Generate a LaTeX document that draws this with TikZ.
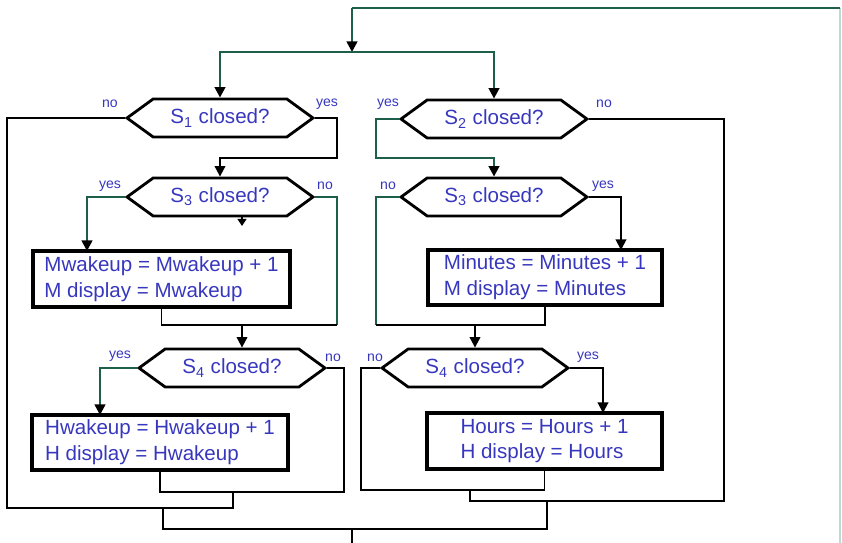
\documentclass[tikz,border=0pt]{standalone}
\usepackage{fontspec}
\setmainfont{Liberation Sans}
\usetikzlibrary{shapes.symbols,arrows.meta}
\definecolor{flowgreen}{RGB}{30,95,75}
\definecolor{textblue}{RGB}{55,55,190}
\definecolor{edgegreen}{RGB}{185,220,212}
\tikzset{
  hexa/.style={signal, signal to=east and west, signal pointer angle=72, draw, line width=1.6pt,
    minimum width=3.72cm, minimum height=0.76cm, inner sep=0pt, text=textblue,
    font=\fontsize{11.7}{14}\selectfont},
  stepbox/.style={draw, line width=2.2pt, align=left, inner sep=0pt, text=textblue,
    font=\fontsize{11.7}{14.7}\selectfont},
  ans/.style={text=textblue, inner sep=0pt, font=\fontsize{8}{9}\selectfont},
  conn/.style={line width=1.1pt},
  gconn/.style={line width=1.4pt, draw=flowgreen},
  tip/.style={-{Triangle[width=6pt,length=6pt,color=black]}}
}

\begin{document}
\begin{tikzpicture}[x=0.02cm, y=-0.02cm]
    \useasboundingbox (0,0) rectangle (842,543);
    % decisions
    \node[hexa] (s1) at (220,118) {S\textsubscript{1} closed?};
    \node[hexa] (s2) at (494,119) {S\textsubscript{2} closed?};
    \node[hexa] (s3l) at (220,197) {S\textsubscript{3} closed?};
    \node[hexa] (s3r) at (494,197) {S\textsubscript{3} closed?};
    \node[hexa] (s4l) at (232,368) {S\textsubscript{4} closed?};
    \node[hexa] (s4r) at (475,368) {S\textsubscript{4} closed?};
    % actions
    \node[stepbox, minimum width=5.14cm, minimum height=1.12cm] (mbox) at (161.5,279)
      {Mwakeup = Mwakeup + 1\\M display = Mwakeup};
    \node[stepbox, minimum width=4.68cm, minimum height=1.1cm] (minbox) at (545,277.5)
      {Minutes = Minutes + 1\\M display = Minutes};
    \node[stepbox, minimum width=5.12cm, minimum height=1.1cm] (hbox) at (160,442.5)
      {Hwakeup = Hwakeup + 1\\H display = Hwakeup};
    \node[stepbox, minimum width=4.7cm, minimum height=1.12cm] (hrbox) at (544.5,441)
      {Hours = Hours + 1\\H display = Hours};
    % yes / no
    \node[ans] (a1n) at (110,104) {no};
    \node[ans] (a1y) at (327,104) {yes};
    \node[ans] (a2y) at (388,104) {yes};
    \node[ans] (a2n) at (604,104) {no};
    \node[ans] (a3y) at (110,186) {yes};
    \node[ans] (a3n) at (325,186) {no};
    \node[ans] (a5n) at (388,186) {no};
    \node[ans] (a5y) at (603,186) {yes};
    \node[ans] (a4y) at (120,356) {yes};
    \node[ans] (a4n) at (333,358) {no};
    \node[ans] (a6n) at (375,358) {no};
    \node[ans] (a6y) at (588,357) {yes};
    % corners and joins
    \coordinate (ret) at (352,8);
    \coordinate (j0) at (352,52);
    \coordinate (lp) at (840,543);
    \coordinate (c1) at (337,158);
    \coordinate (c2) at (376,158);
    \coordinate (c3) at (337,325);
    \coordinate (c4) at (376,325);
    \coordinate (m1) at (242,325);
    \coordinate (m2) at (475,325);
    \coordinate (t1) at (87,251);
    \coordinate (t2) at (621,250);
    \coordinate (t3) at (100,415);
    \coordinate (t4) at (603,413);
    \coordinate (ml) at (233,492);
    \coordinate (jl) at (233,508);
    \coordinate (dl) at (163,508);
    \coordinate (bl) at (163,529);
    \coordinate (mr) at (470,490);
    \coordinate (jr) at (470,501);
    \coordinate (dr) at (547,501);
    \coordinate (br) at (547,529);
    \coordinate (out) at (352,529);
    \coordinate (outb) at (352,543);
    \coordinate (stub) at (242,226);
    % loop back
    \draw[line width=0.6pt, edgegreen] (lp) -- (lp |- ret);
    \draw[gconn] (lp |- ret) -- (ret);
    \draw[gconn, tip] (ret) -- (j0);
    \draw[gconn, tip] (j0) -| (s1.north);
    \draw[gconn, tip] (j0) -| (s2.north);
    % left column
    \draw[conn, tip] (s1.east) -| (c1) -| (s3l.north);
    \draw[gconn, tip] (s3l.west) -| (t1);
    \draw[gconn] (s3l.east) -| (c3);
    \draw[conn] (mbox.south) |- (c3);
    \draw[conn, tip] (m1) -- (m1 |- s4l.north);
    \draw[conn, -{Triangle[width=5pt,length=4pt]}] (s3l.south -| stub) -- (stub);
    \draw[gconn, tip] (s4l.west) -| (t3);
    \draw[conn] (hbox.south) |- (ml);
    \draw[conn] (s4l.east) -- ++(17,0) |- (ml);
    \draw[conn] (s1.west) -- ++(-118,0) |- (jl) -- (ml);
    % right column
    \draw[gconn, tip] (s2.west) -| (c2) -| (s3r.north);
    \draw[conn, tip] (s3r.east) -| (t2);
    \draw[gconn] (s3r.west) -| (c4);
    \draw[conn] (minbox.south) |- (c4);
    \draw[conn, tip] (m2) -- (s4r.north);
    \draw[conn, tip] (s4r.east) -| (t4);
    \draw[conn] (hrbox.south) |- (mr);
    \draw[conn] (s4r.west) -- ++(-19,0) |- (mr);
    \draw[conn] (s2.east) -- ++(135,0) |- (jr) -- (mr);
    % bottom join
    \draw[conn] (dl) -- (bl) -- (br) -- (dr);
    \draw[conn] (out) -- (outb);
\end{tikzpicture}
\end{document}
